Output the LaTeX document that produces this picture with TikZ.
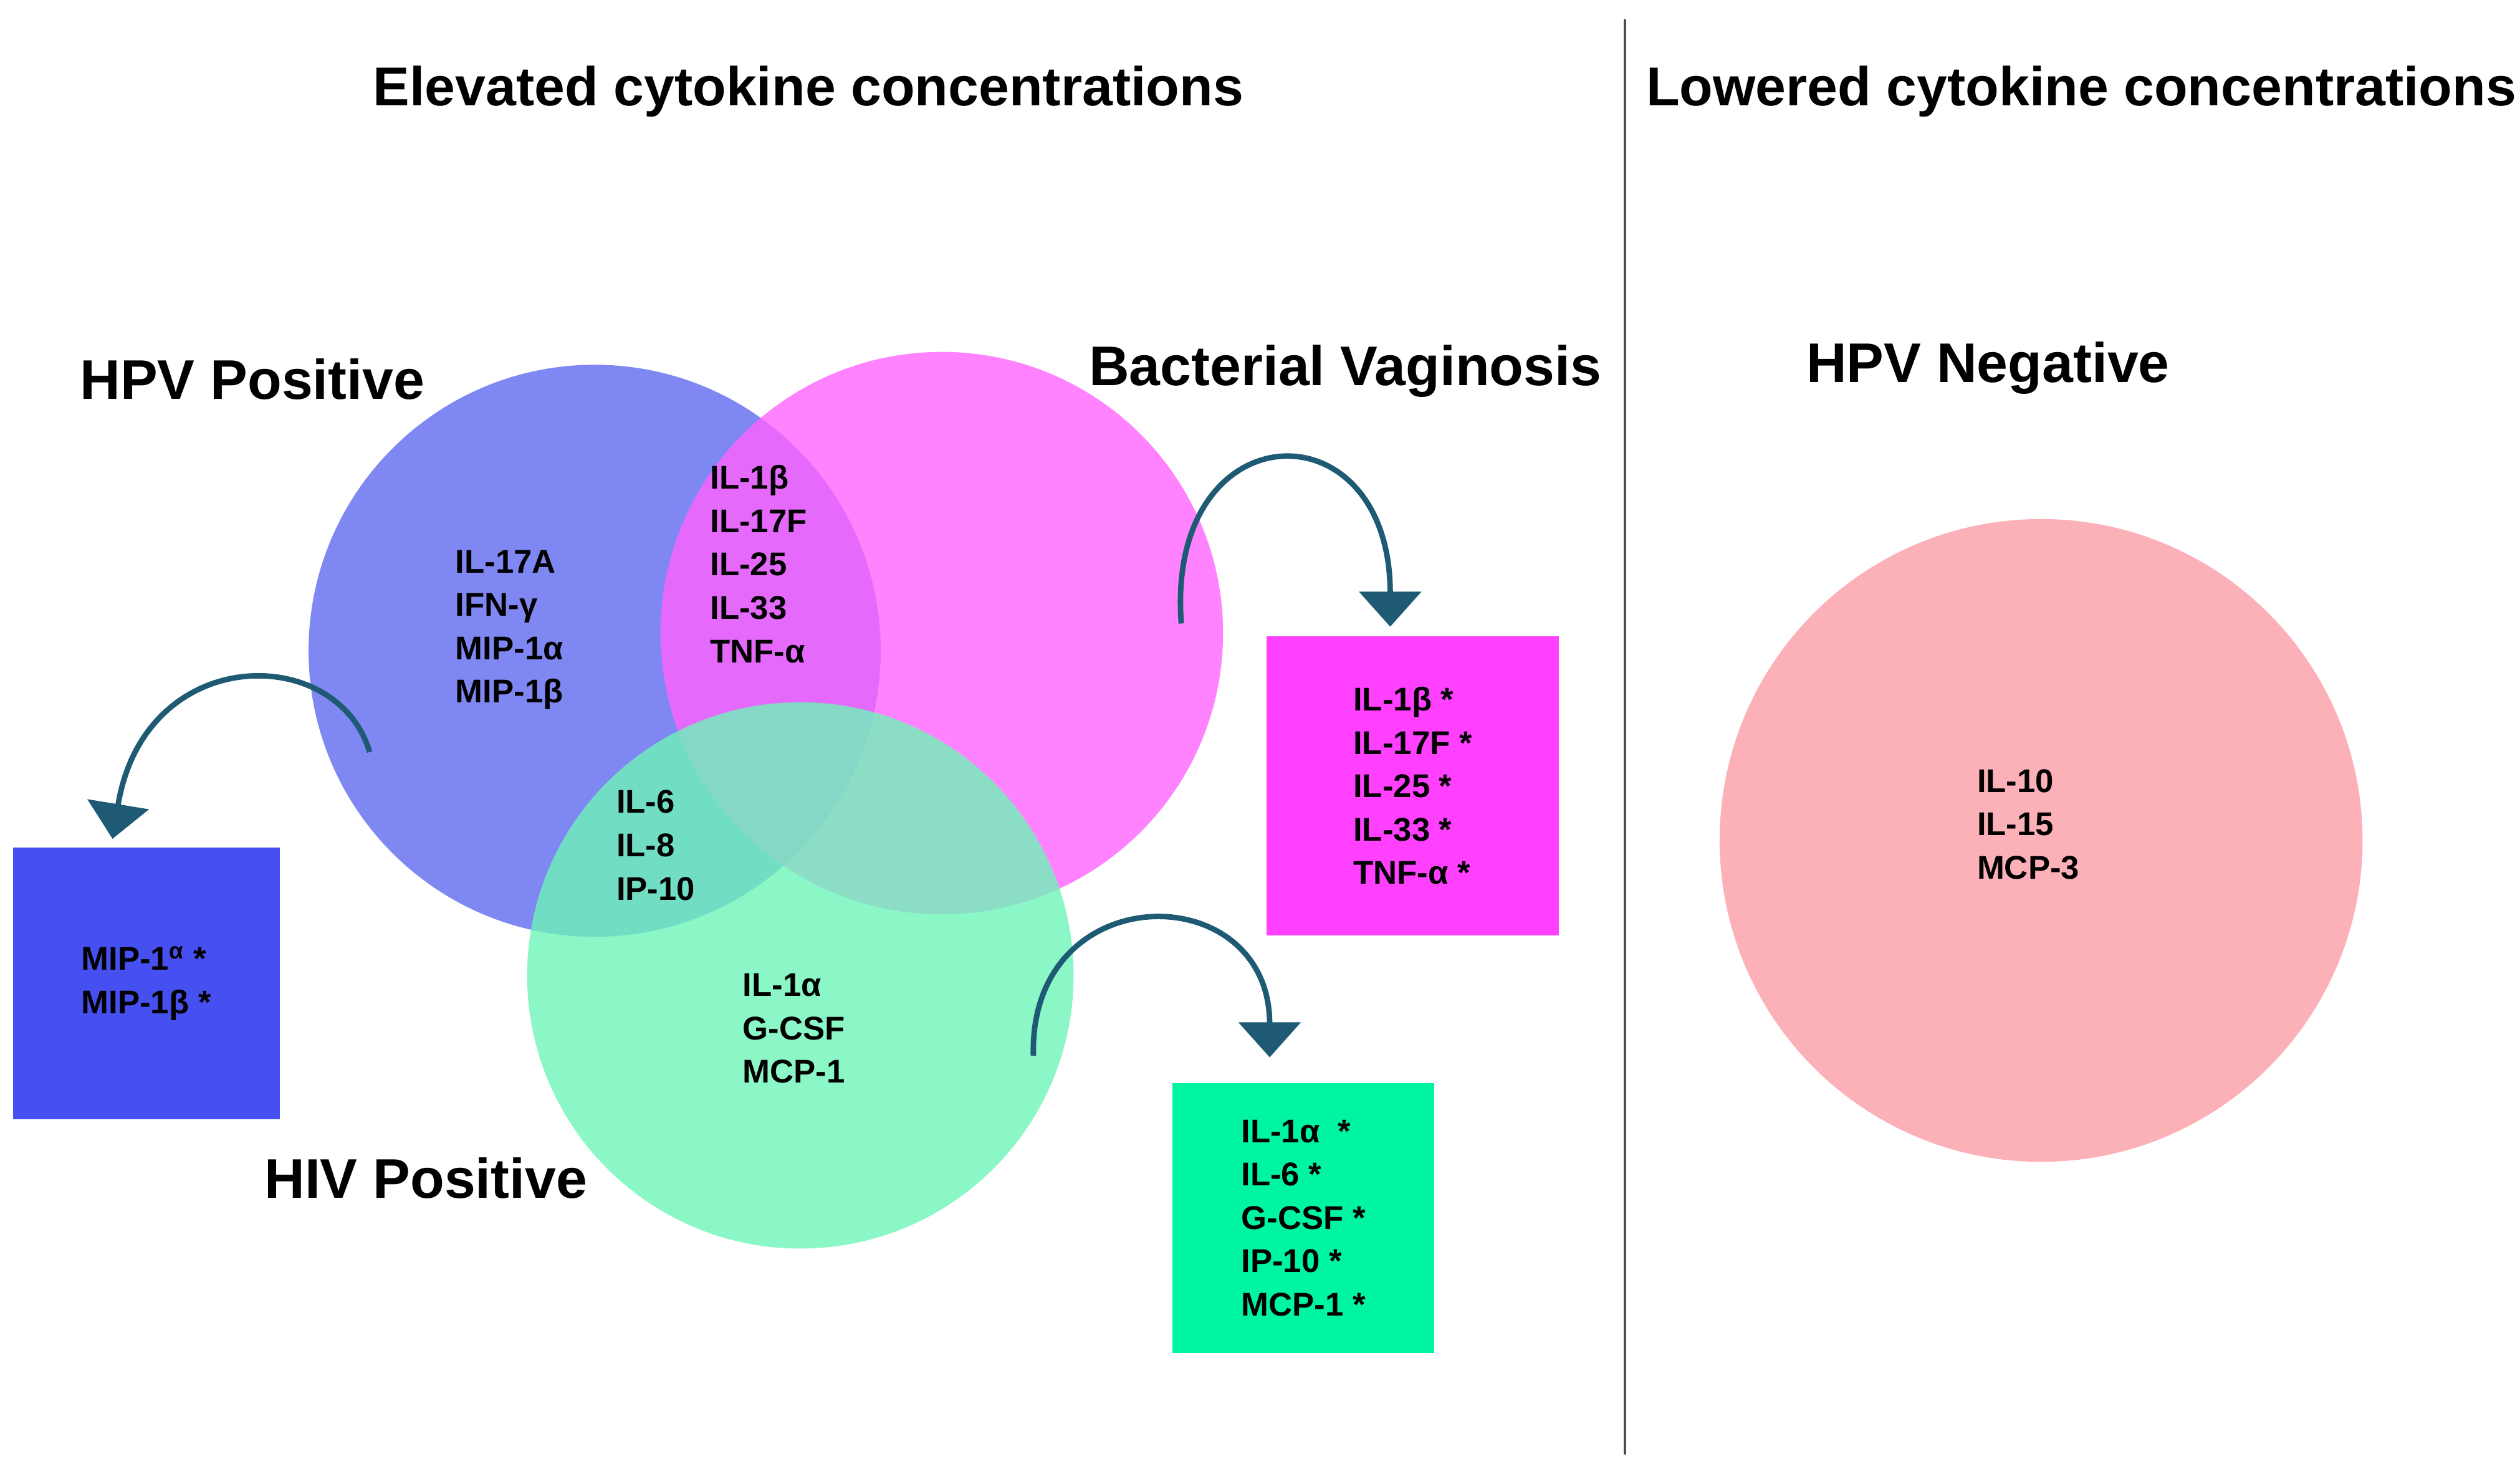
\documentclass[tikz,border=0pt]{standalone}
\usepackage{fontspec}
\setmainfont{Liberation Sans}
\usetikzlibrary{arrows.meta}
\definecolor{hpvblue}{RGB}{95,105,240}
\definecolor{bvpink}{RGB}{255,100,255}
\definecolor{hivgreen}{RGB}{110,245,185}
\definecolor{negpink}{RGB}{252,176,184}
\definecolor{boxblue}{RGB}{70,80,240}
\definecolor{boxpink}{RGB}{255,64,255}
\definecolor{boxgreen}{RGB}{0,245,160}
\definecolor{arrowteal}{RGB}{30,90,115}
\begin{document}
\begin{tikzpicture}[x=0.02578cm, y=-0.02578cm]
    \tikzset{
      heading/.style={font=\fontsize{25}{29}\selectfont\bfseries},
      group/.style={font=\fontsize{25.5}{29}\selectfont\bfseries},
      list/.style={font=\fontsize{15}{19.8}\selectfont\bfseries, align=left},
      circ/.style={circle, fill opacity=0.8},
      turn/.style={
        -{Triangle[width=28pt, length=16pt]}, line width=2.5pt,
        draw=arrowteal,
      },
    }
    \useasboundingbox (0,0) rectangle (1568,916);

    % headings and divider
    \node[heading] (elev) at (503,57) {Elevated cytokine concentrations};
    \node[heading] (lowr) at (1295,57) {Lowered cytokine concentrations};
    \coordinate (divtop) at (1011,12);
    \coordinate (divbot) at (1011,905);
    \draw[line width=1pt, black!70] (divtop) -- (divbot);

    % venn circles
    \fill[circ, hpvblue] (370,405) circle (178);
    \fill[circ, bvpink] (586,394) circle (175);
    \fill[circ, hivgreen] (498,607) circle (170);
    \fill[negpink] (1270,523) circle (200);

    \node[group] (hpvpos) at (157,236) {HPV Positive};
    \node[group] (bv) at (837,231) {Bacterial Vaginosis};
    \node[group] (hivpos) at (265,733) {HIV Positive};
    \node[group] (hpvneg) at (1237,229) {HPV Negative};

    % region lists
    \node[list] (hpvonly) at (317,392) {IL-17A\\IFN-γ\\MIP-1α\\MIP-1β};
    \node[list] (hpvbv) at (472,351) {IL-1β\\IL-17F\\IL-25\\IL-33\\TNF-α};
    \node[list] (hpvhiv) at (408,526) {IL-6\\IL-8\\IP-10};
    \node[list] (hivonly) at (494,640) {IL-1α\\G-CSF\\MCP-1};
    \node[list] (neg) at (1262,513) {IL-10\\IL-15\\MCP-3};

    % summary boxes
    \node[fill=boxblue, minimum width=166*0.02578cm, minimum height=169*0.02578cm] (bluebox) at (91,612) {};
    \node[list] at (bluebox) {MIP-1\textsuperscript{α} *\\MIP-1β *};
    \node[fill=boxpink, minimum width=182*0.02578cm, minimum height=186*0.02578cm] (pinkbox) at (879,489) {};
    \node[list] at (pinkbox) {IL-1β *\\IL-17F *\\IL-25 *\\IL-33 *\\TNF-α *};
    \node[fill=boxgreen, minimum width=163*0.02578cm, minimum height=168*0.02578cm] (greenbox) at (811,758) {};
    \node[list] at (greenbox) {IL-1α\ \ *\\IL-6 *\\G-CSF *\\IP-10 *\\MCP-1 *};

    % curved arrows
    \coordinate (hpvfrom) at (230,468);
    \coordinate (hpvto) at (70,522);
    \draw[turn] (hpvfrom) .. controls (210,400) and (90,400) .. (hpvto);
    \coordinate (bvfrom) at (735,388);
    \coordinate (bvto) at (865,390);
    \draw[turn] (bvfrom) .. controls (725,255) and (865,250) .. (bvto);
    \coordinate (hivfrom) at (643,657);
    \coordinate (hivto) at (790,658);
    \draw[turn] (hivfrom) .. controls (640,545) and (790,545) .. (hivto);
\end{tikzpicture}
\end{document}
